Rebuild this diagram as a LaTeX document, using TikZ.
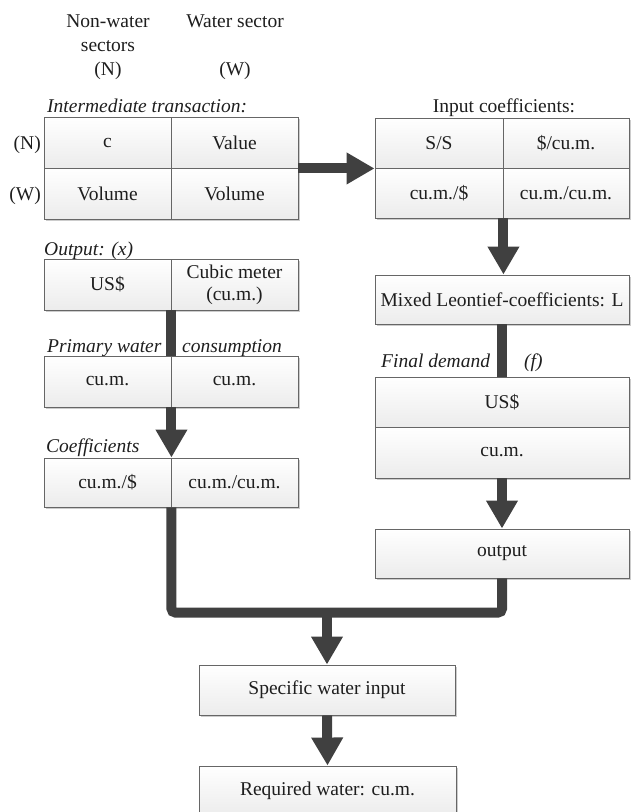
\documentclass[tikz,border=0pt]{standalone}
\usepackage{fontspec}
\setmainfont{Liberation Serif}
\usetikzlibrary{arrows.meta,shadows}
\definecolor{arr}{HTML}{404040}
\definecolor{bord}{HTML}{666666}
\definecolor{txt}{HTML}{1E1E1E}
\begin{document}
\begin{tikzpicture}[x=1pt,y=-1pt,
  font=\fontsize{19.5}{22}\selectfont, text=txt,
  cell/.style={draw=bord, line width=0.9pt, top color=white, bottom color=gray!15,
    inner sep=0pt, align=center,
    drop shadow={shadow xshift=1.6pt, shadow yshift=-1.6pt, fill=black, opacity=0.2}},
  lbl/.style={inner sep=0pt, anchor=base west, font=\fontsize{19.5}{22}\selectfont\itshape},
  plain/.style={inner sep=0pt, anchor=base},
  pipe/.style={draw=arr, line width=10pt},
  flow/.style={pipe, -{Triangle[width=30pt,length=28pt]}}]
\useasboundingbox (0,0) rectangle (630,812);

% column headings
\node[plain] (hn1) at (108,27) {Non-water};
\node[plain] (hn2) at (108,51) {sectors};
\node[plain] (hn3) at (108,75) {(N)};
\node[plain] (hw1) at (235,27) {Water sector};
\node[plain] (hw3) at (235,75) {(W)};

% intermediate transaction
\node[lbl] (lit) at (47,112) {Intermediate transaction:};
\node[cell, minimum width=127pt, minimum height=51pt] (it11) at (107.5,142.5) {c};
\node[cell, minimum width=127pt, minimum height=51pt] (it12) at (234.5,142.5) {Value};
\node[cell, minimum width=127pt, minimum height=51pt] (it21) at (107.5,193.5) {Volume};
\node[cell, minimum width=127pt, minimum height=51pt] (it22) at (234.5,193.5) {Volume};
\node[inner sep=0pt, anchor=base east] (rn) at (41,149.5) {(N)};
\node[inner sep=0pt, anchor=base east] (rw) at (41,200) {(W)};

% output
\node[lbl] (lout) at (44,255) {Output: (x)};
\node[cell, minimum width=127pt, minimum height=51pt] (out1) at (107.5,284.5) {US\$};
\node[cell, minimum width=127pt, minimum height=51pt] (out2) at (234.5,284.5) {Cubic meter\\(cu.m.)};

% primary water consumption
\node[lbl] (lpw1) at (47,352) {Primary water};
\node[lbl] (lpw2) at (182,352) {consumption};
\node[cell, minimum width=127pt, minimum height=51pt] (pw1) at (107.5,381.5) {cu.m.};
\node[cell, minimum width=127pt, minimum height=51pt] (pw2) at (234.5,381.5) {cu.m.};

% coefficients
\node[lbl] (lco) at (46,452) {Coefficients};
\node[cell, minimum width=127pt, minimum height=49pt] (co1) at (107.5,482.5) {cu.m./\$};
\node[cell, minimum width=127pt, minimum height=49pt] (co2) at (234.5,482.5) {cu.m./cu.m.};

% input coefficients
\node[plain] (lic) at (504,112) {Input coefficients:};
\node[cell, minimum width=128pt, minimum height=50pt] (ic11) at (439,143) {S/S};
\node[cell, minimum width=126pt, minimum height=50pt] (ic12) at (566,143) {\$/cu.m.};
\node[cell, minimum width=128pt, minimum height=50pt] (ic21) at (439,193) {cu.m./\$};
\node[cell, minimum width=126pt, minimum height=50pt] (ic22) at (566,193) {cu.m./cu.m.};

% mixed Leontief
\node[cell, minimum width=254pt, minimum height=49pt] (mix) at (502,299.5) {Mixed Leontief-coefficients: L};

% final demand
\node[lbl] (lfd1) at (381,367) {Final demand};
\node[lbl] (lfd2) at (524,367) {(f)};
\node[cell, minimum width=254pt, minimum height=50pt] (fd1) at (502,402) {US\$};
\node[cell, minimum width=254pt, minimum height=51pt] (fd2) at (502,452.5) {cu.m.};

% output (right)
\node[cell, minimum width=254pt, minimum height=49pt] (outb) at (502,553.5) {output};

% bottom boxes
\node[cell, minimum width=256pt, minimum height=50pt] (spec) at (327,690) {Specific water input};
\node[cell, minimum width=257pt, minimum height=50pt] (req) at (327.5,791) {Required water: cu.m.};

% connectors
\draw[flow] (it12.south east) -- (ic11.south west);
\draw[flow] (ic21.south east) -- (ic21.south east |- mix.north);
\draw[pipe] (mix.south) -- (fd1.north);
\draw[flow] (fd2.south) -- (outb.north);
\draw[pipe] (out1.south east) -- (pw1.north east);
\draw[flow] (pw1.south east) -- (co1.north east);
\path (spec.north) ++(0,-52) coordinate (jn);
\draw[pipe, rounded corners=4pt] (co1.south east) |- (jn) -| (outb.south);
\draw[flow] (jn) -- (spec.north);
\draw[flow] (spec.south) -- (req.north);
\end{tikzpicture}
\end{document}
